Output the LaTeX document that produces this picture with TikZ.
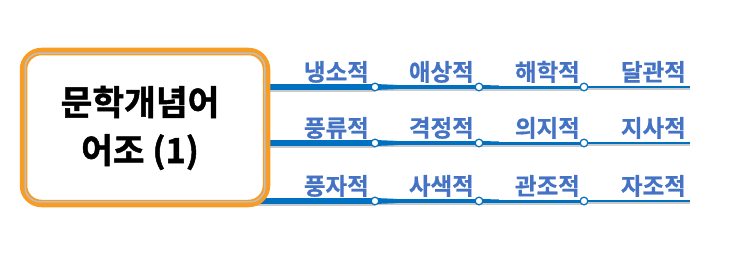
\documentclass[tikz,border=0pt]{standalone}
\usepackage{fontspec}
\newfontfamily\kr{Noto Sans CJK KR Bold}[FakeBold=0.6]
\newfontfamily\krtitle{Noto Sans CJK KR Bold}[FakeBold=1.4]
\usetikzlibrary{shadows}
\definecolor{boxorange}{RGB}{247,157,38}
\definecolor{lineblue}{RGB}{0,112,192}
\definecolor{labelblue}{RGB}{68,114,196}
\begin{document}
\begin{tikzpicture}[x=1pt,y=-1pt,
  lbl/.style={anchor=south east,inner sep=0pt,text=labelblue,font=\kr\fontsize{23.5}{23.5}\selectfont},
  dot/.style={circle,draw=lineblue,fill=white,line width=1.1pt,minimum size=7.5pt,inner sep=0pt},
  seg/.style={draw=lineblue,line width=#1},
  shd/.style={draw=black!35,line width=#1,opacity=0.6}
]
\useasboundingbox (0,0) rectangle (743,262);
% row geometry
\foreach \r/\y in {1/87,2/143,3/201}{
  \coordinate (s\r) at (250,\y);
  \node[dot] (c\r1) at (375,\y) {};
  \node[dot] (c\r2) at (479,\y) {};
  \node[dot] (c\r3) at (584,\y) {};
  \coordinate (e\r) at (690,\y);
}
% shadows of connectors
\foreach \r in {1,2,3}{
  \draw[shd=6pt] ([yshift=-2pt]s\r) -- ([yshift=-2pt]c\r1.center);
  \draw[shd=4.5pt] ([yshift=-2pt]c\r1.center) -- ([yshift=-2pt]c\r2.center);
  \draw[shd=3.2pt] ([yshift=-2pt]c\r2.center) -- ([yshift=-2pt]c\r3.center);
  \draw[shd=2.6pt] ([yshift=-2pt]c\r3.center) -- ([yshift=-2pt]e\r);
}
% connectors
\foreach \r in {1,2,3}{
  \draw[seg=6pt] (s\r) -- (c\r1.center);
  \draw[seg=4.2pt] (c\r1.center) -- (c\r2.center);
  \fill[lineblue] ([yshift=-3pt]c\r1.center) -- ([xshift=22pt,yshift=-2.1pt]c\r1.center) -- ([xshift=22pt,yshift=2.1pt]c\r1.center) -- ([yshift=3pt]c\r1.center) -- cycle;
  \draw[seg=3pt] (c\r2.center) -- (c\r3.center);
  \fill[lineblue] ([yshift=-2.1pt]c\r2.center) -- ([xshift=20pt,yshift=-1.5pt]c\r2.center) -- ([xshift=20pt,yshift=1.5pt]c\r2.center) -- ([yshift=2.1pt]c\r2.center) -- cycle;
  \draw[seg=2.4pt] (c\r3.center) -- (e\r);
}
% dots on top
\foreach \r in {1,2,3}{
  \node[dot] at (c\r1) {};
  \node[dot] at (c\r2) {};
  \node[dot] at (c\r3) {};
}
% main box
\node[draw=boxorange,line width=7.5pt,fill=white,rounded corners=18pt,
      minimum width=243pt,minimum height=152pt,
      drop shadow={shadow xshift=2pt,shadow yshift=-3pt,opacity=0.35}] (main) at (145,127.5) {};
\draw[black!25,line width=1.5pt,rounded corners=14pt]
  ([xshift=5.5pt,yshift=-5.5pt]main.north west) rectangle ([xshift=-5.5pt,yshift=5.5pt]main.south east);
\node[font=\krtitle\fontsize{34.5}{48}\selectfont,align=center,inner sep=0pt] (title) at (140,128)
  {문학개념어\\어조 (1)};
% labels
\node[lbl] (l11) at ([xshift=-6pt,yshift=4pt]c11.center) {냉소적};
\node[lbl] (l12) at ([xshift=-5pt,yshift=4pt]c12.center) {애상적};
\node[lbl] (l13) at ([xshift=-4pt,yshift=4pt]c13.center) {해학적};
\node[lbl] (l14) at ([xshift=-4pt,yshift=4pt]e1) {달관적};
\node[lbl] (l21) at ([xshift=-6pt,yshift=4pt]c21.center) {풍류적};
\node[lbl] (l22) at ([xshift=-5pt,yshift=4pt]c22.center) {격정적};
\node[lbl] (l23) at ([xshift=-4pt,yshift=4pt]c23.center) {의지적};
\node[lbl] (l24) at ([xshift=-4pt,yshift=4pt]e2) {지사적};
\node[lbl] (l31) at ([xshift=-6pt,yshift=4pt]c31.center) {풍자적};
\node[lbl] (l32) at ([xshift=-5pt,yshift=4pt]c32.center) {사색적};
\node[lbl] (l33) at ([xshift=-4pt,yshift=4pt]c33.center) {관조적};
\node[lbl] (l34) at ([xshift=-4pt,yshift=4pt]e3) {자조적};
\end{tikzpicture}
\end{document}
